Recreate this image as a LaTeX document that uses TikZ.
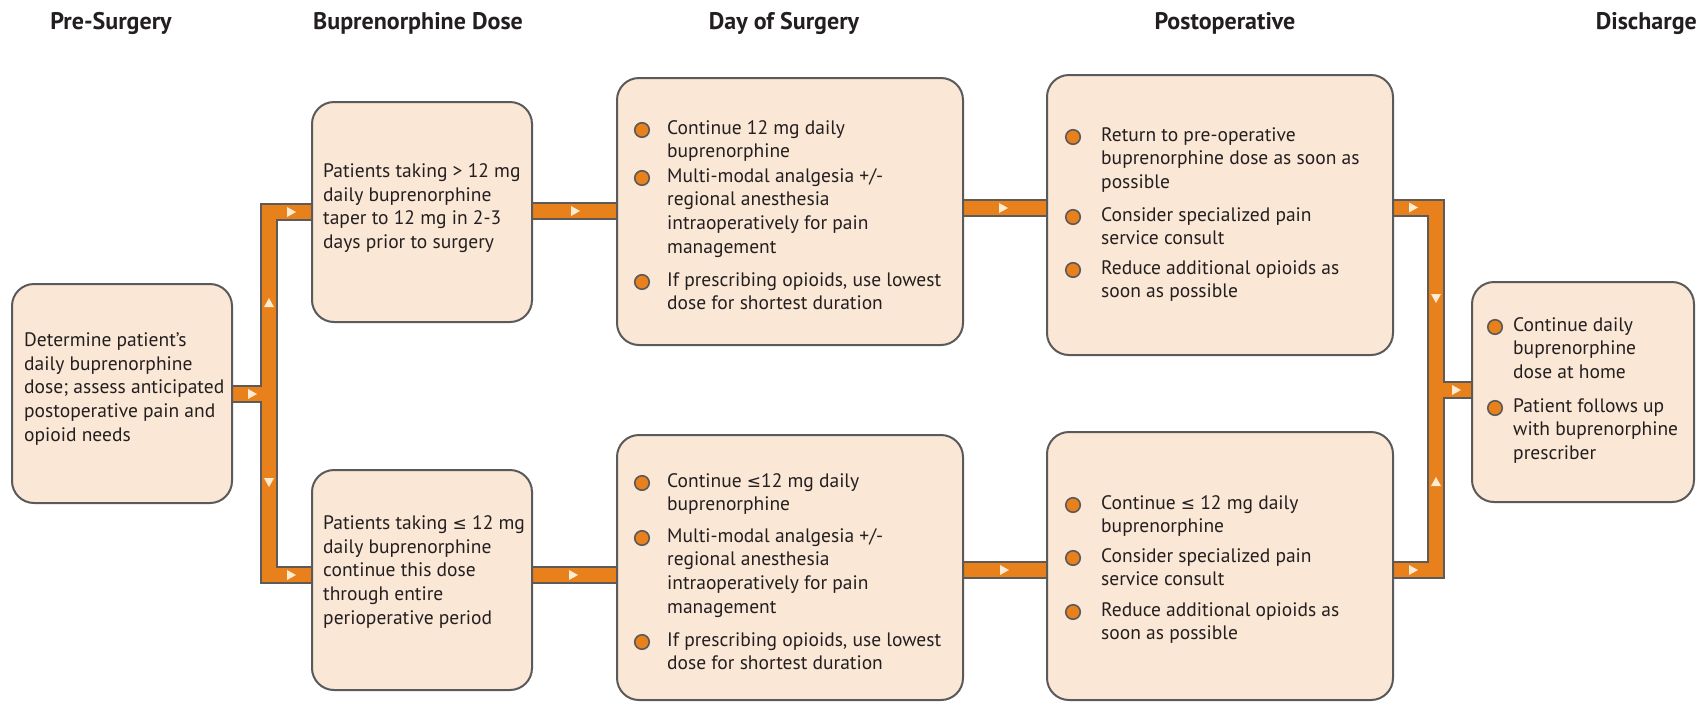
\documentclass[tikz,border=0pt]{standalone}
\usepackage{fontspec}
\setmainfont{PT Sans}
\newfontfamily\symf{DejaVu Sans}
\usetikzlibrary{backgrounds}
\definecolor{boxfill}{HTML}{FBE7D6}
\definecolor{boxline}{HTML}{5A5A5A}
\definecolor{barorange}{HTML}{E8801C}
\definecolor{barline}{HTML}{5E5A57}
\definecolor{tricol}{HTML}{FDEBD2}
\definecolor{txt}{HTML}{231F20}
\newcommand{\myle}{{\symf\fontsize{17}{20}\selectfont ≤}}
\tikzset{
  stage/.style={draw=boxline, line width=2pt, fill=boxfill, rounded corners=22pt, inner sep=0pt},
  body/.style={font=\fontsize{19.5}{23.7}\selectfont, align=left, anchor=north west, inner sep=0pt, text=txt},
  ttl/.style={font=\fontsize{24}{28}\selectfont\bfseries, anchor=base, inner sep=0pt, text=txt},
  dot/.style={circle, draw=boxline, line width=1.6pt, fill=barorange, minimum size=14.5pt, inner sep=0pt},
  barout/.style={line width=18pt, draw=barline, line join=miter, line cap=butt},
  barin/.style={line width=14pt, draw=barorange, line join=miter, line cap=butt},
  tri/.style={fill=tricol}
}
\newcommand{\bitem}[5]{%
  \node[dot] (#1dot) at (#2,#4) {};
  \node[body] (#1) at (#3,#4-9.8) {#5};}
\newcommand{\triR}[2]{\fill[tri] (#1-4,#2-5) -- (#1+5,#2) -- (#1-4,#2+5) -- cycle;}
\newcommand{\triU}[2]{\fill[tri] (#1-5,#2+4) -- (#1,#2-5) -- (#1+5,#2+4) -- cycle;}
\newcommand{\triD}[2]{\fill[tri] (#1-5,#2-4) -- (#1,#2+5) -- (#1+5,#2-4) -- cycle;}
\begin{document}
\begin{tikzpicture}[x=1pt,y=-1pt]
\useasboundingbox (0,0) rectangle (1700,705);
% titles
\node[ttl] (t1) at (111,29) {Pre-Surgery};
\node[ttl] (t2) at (418,29) {Buprenorphine Dose};
\node[ttl] (t3) at (784,29) {Day of Surgery};
\node[ttl] (t4) at (1225,29) {Postoperative};
\node[ttl, anchor=base east] (t5) at (1697,29) {Discharge};
% boxes
\node[stage, minimum width=220pt, minimum height=219pt] (pre) at (122,393.5) {};
\node[stage, minimum width=220pt, minimum height=220pt] (b1) at (422,212) {};
\node[stage, minimum width=220pt, minimum height=220pt] (b2) at (422,580) {};
\node[stage, minimum width=346pt, minimum height=267pt] (d1) at (790,211.5) {};
\node[stage, minimum width=346pt, minimum height=265pt] (d2) at (790,567.5) {};
\node[stage, minimum width=346pt, minimum height=280pt] (p1) at (1220,215) {};
\node[stage, minimum width=346pt, minimum height=268pt] (p2) at (1220,566) {};
\node[stage, minimum width=222pt, minimum height=220pt] (dis) at (1583,392) {};
% texts
\node[body] (pretxt) at (24,332.5) {Determine patient’s\\daily buprenorphine\\dose; assess anticipated\\postoperative pain and\\opioid needs};
\node[body] (b1txt) at (323,163.5) {Patients taking > 12 mg\\daily buprenorphine\\taper to 12 mg in 2-3\\days prior to surgery};
\node[body] (b2txt) at (323,515.5) {Patients taking \myle{} 12 mg\\daily buprenorphine\\continue this dose\\through entire\\perioperative period};
\bitem{d1a}{642}{667}{130}{Continue 12 mg daily\\buprenorphine}
\bitem{d1b}{642}{667}{178}{Multi-modal analgesia +/-\\regional anesthesia\\intraoperatively for pain\\management}
\bitem{d1c}{642}{667}{282}{If prescribing opioids, use lowest\\dose for shortest duration}
\bitem{d2a}{642}{667}{483}{Continue \myle12 mg daily\\buprenorphine}
\bitem{d2b}{642}{667}{538}{Multi-modal analgesia +/-\\regional anesthesia\\intraoperatively for pain\\management}
\bitem{d2c}{642}{667}{642}{If prescribing opioids, use lowest\\dose for shortest duration}
\bitem{p1a}{1073}{1101}{137}{Return to pre-operative\\buprenorphine dose as soon as\\possible}
\bitem{p1b}{1073}{1101}{217}{Consider specialized pain\\service consult}
\bitem{p1c}{1073}{1101}{270}{Reduce additional opioids as\\soon as possible}
\bitem{p2a}{1073}{1101}{505}{Continue \myle{} 12 mg daily\\buprenorphine}
\bitem{p2b}{1073}{1101}{558}{Consider specialized pain\\service consult}
\bitem{p2c}{1073}{1101}{612}{Reduce additional opioids as\\soon as possible}
\bitem{dsa}{1495}{1513}{327}{Continue daily\\buprenorphine\\dose at home}
\bitem{dsb}{1495}{1513}{408}{Patient follows up\\with buprenorphine\\prescriber}
% junction coordinates
\coordinate (lt) at (269,212);
\coordinate (lm) at (269,394);
\coordinate (lb) at (269,575);
\coordinate (rt) at (1436,207.5);
\coordinate (rm) at (1436,390);
\coordinate (rb) at (1436,570);
\coordinate (ya) at (0,211);
\coordinate (yb) at (0,575);
\coordinate (yc) at (0,208);
\coordinate (yd) at (0,570);
\begin{scope}[on background layer]
\fill[white] (0,0) rectangle (1700,705);
\foreach \s in {barout,barin}{
  \draw[\s] (pre.east |- lm) -- (lm);
  \draw[\s] (b1.west |- lt) -- (lt) -- (lb) -- (b2.west |- lb);
  \draw[\s] (b1.east |- ya) -- (d1.west |- ya);
  \draw[\s] (b2.east |- yb) -- (d2.west |- yb);
  \draw[\s] (d1.east |- yc) -- (p1.west |- yc);
  \draw[\s] (d2.east |- yd) -- (p2.west |- yd);
  \draw[\s] (p1.east |- rt) -- (rt) -- (rb) -- (p2.east |- rb);
  \draw[\s] (rm) -- (dis.west |- rm);
}
\triR{252}{394}
\triU{269}{303}
\triD{269}{482}
\triR{291}{212}
\triR{291}{575}
\triR{575}{211}
\triR{573}{575}
\triR{1003}{208}
\triR{1004}{570}
\triR{1413}{207.5}
\triR{1413}{570}
\triD{1436}{298}
\triU{1436}{482}
\triR{1456}{390}
\end{scope}
\end{tikzpicture}
\end{document}
